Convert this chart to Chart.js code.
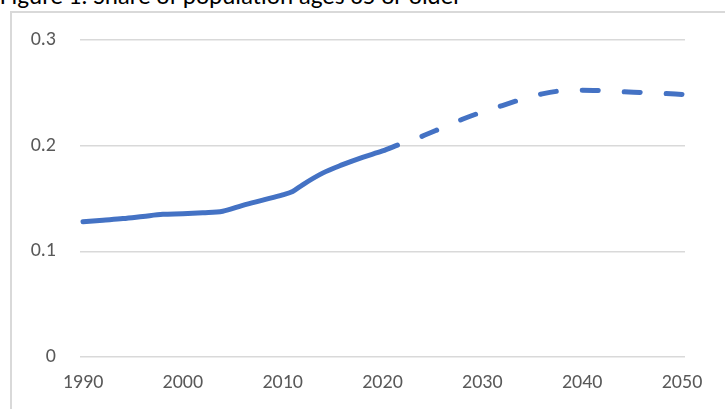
<!DOCTYPE html>
<html>
<head>
<meta charset="utf-8">
<script src="https://cdn.jsdelivr.net/npm/chart.js@4/dist/chart.umd.min.js"></script>
<style>
  html, body { margin: 0; padding: 0; background: #fff; overflow: hidden; }
  #wrap { position: relative; width: 725px; height: 409px; }
  #frame { position: absolute; left: 10px; top: 11px; width: 760px; height: 440px; border: 2px solid #d9d9d9; box-sizing: border-box; }
  #title { position: absolute; left: 0; top: -19px; font-size: 25px; line-height: 30px; font-family: Carlito, Calibri, Lato, sans-serif; color: #000; white-space: nowrap; }
  canvas { position: absolute; left: 0; top: 0; }
</style>
</head>
<body>
<div id="wrap">
  <div id="frame"></div>
  <div id="title">Figure 1. Share of population ages 65 or older</div>
  <canvas id="chart" width="725" height="409"></canvas>
</div>
<script>
// historical share, solid line
const histYears = [1990, 1992, 1994, 1996, 1998, 2000, 2002, 2004, 2006, 2008, 2010, 2011, 2012, 2014, 2016, 2018, 2020, 2021.5];
const histShare = [0.128, 0.1295, 0.131, 0.133, 0.135, 0.1355, 0.1365, 0.138, 0.1435, 0.1485, 0.1535, 0.1566, 0.163, 0.174, 0.182, 0.189, 0.195, 0.2005];

// projected share, dashed line
const projYears = [2021.5, 2024, 2026, 2028, 2030, 2032, 2034, 2036, 2038, 2040, 2042, 2044, 2046, 2048, 2050];
const projShare = [0.2005, 0.209, 0.217, 0.225, 0.232, 0.238, 0.244, 0.249, 0.252, 0.2525, 0.252, 0.251, 0.2503, 0.2495, 0.2485];

const xTicks = [1990, 2000, 2010, 2020, 2030, 2040, 2050];
const yTicks = [0, 0.1, 0.2, 0.3];

const toPoints = (xs, ys) => xs.map((x, i) => ({ x, y: ys[i] }));
const font = { family: 'Carlito, Calibri, Lato, sans-serif', size: 20 };

new Chart(document.getElementById('chart'), {
    type: 'line',
    data: {
        datasets: [
            {
                data: toPoints(histYears, histShare),
                borderColor: '#4472C4',
                borderWidth: 5,
                borderCapStyle: 'round',
                borderJoinStyle: 'round',
                pointRadius: 0,
                cubicInterpolationMode: 'monotone'
            },
            {
                data: toPoints(projYears, projShare),
                borderColor: '#4472C4',
                borderWidth: 5,
                borderDash: [16, 26],
                borderDashOffset: 16,
                borderCapStyle: 'round',
                pointRadius: 0,
                cubicInterpolationMode: 'monotone'
            }
        ]
    },
    options: {
        responsive: false,
        animation: false,
        layout: { padding: { top: 40, right: 40, left: 0, bottom: 0 } },
        plugins: { legend: { display: false }, tooltip: { enabled: false } },
        scales: {
            x: {
                type: 'linear',
                min: 1989.7,
                max: 2050.3,
                afterBuildTicks: s => { s.ticks = xTicks.map(v => ({ value: v })); },
                grid: { display: false, drawTicks: false },
                border: { display: false },
                ticks: { padding: 14, color: '#595959', font, callback: v => String(v) },
                afterFit: s => { s.height = 52; }
            },
            y: {
                min: 0,
                max: 0.3,
                afterBuildTicks: s => { s.ticks = yTicks.map(v => ({ value: v })); },
                grid: { color: '#d9d9d9', lineWidth: 1.5, drawTicks: false },
                border: { display: false },
                ticks: { padding: 24, color: '#595959', font, callback: v => String(v) },
                afterFit: s => { s.width = 80; }
            }
        }
    }
});
</script>
</body>
</html>
